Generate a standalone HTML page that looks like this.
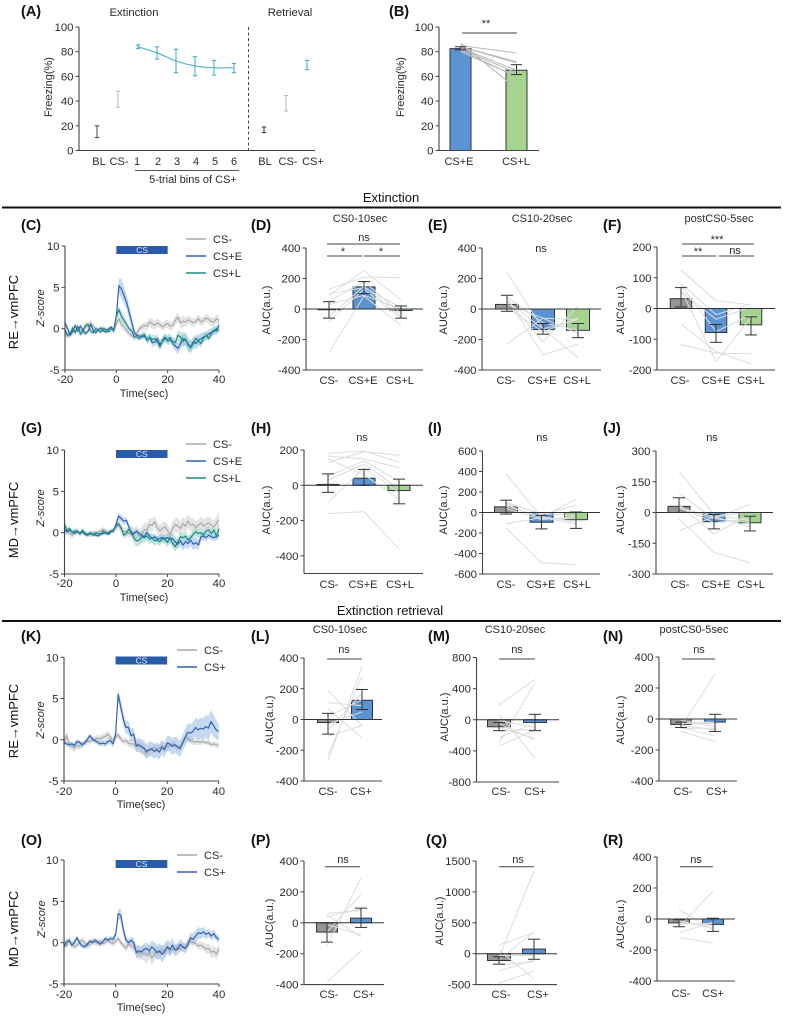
<!DOCTYPE html>
<html lang="en">
<head>
<meta charset="utf-8">
<title>Freezing and AUC figure</title>
<style>
html,body{margin:0;padding:0;background:#fff;}
svg{display:block;font-family:"Liberation Sans",Arial,sans-serif;filter:blur(0.3px);}
text{fill:#2b2b2b;font-size:11px;}
.pl{font-size:14.5px;font-weight:bold;fill:#111;}
.sec{font-size:13px;fill:#111;}
.side{font-size:13px;fill:#111;}
</style>
</head>
<body>
<svg id="fig" xmlns="http://www.w3.org/2000/svg" width="785" height="1016" viewBox="0 0 785 1016">
<rect x="0" y="0" width="785" height="1016" fill="#fff"/>
<text class="sec" x="391" y="202" text-anchor="middle">Extinction</text>
<line x1="2" x2="781" y1="207.5" y2="207.5" stroke="#111" stroke-width="2"/>
<text class="sec" x="390" y="615" text-anchor="middle">Extinction retrieval</text>
<line x1="2" x2="781" y1="621" y2="621" stroke="#111" stroke-width="2"/>
<text class="pl" x="21" y="16">(A)</text>
<text class="pl" x="389" y="16">(B)</text>
<text class="pl" x="21" y="230">(C)</text>
<text class="pl" x="251" y="230">(D)</text>
<text class="pl" x="428" y="230">(E)</text>
<text class="pl" x="603" y="230">(F)</text>
<text class="pl" x="21" y="433">(G)</text>
<text class="pl" x="251" y="433">(H)</text>
<text class="pl" x="428" y="433">(I)</text>
<text class="pl" x="603" y="433">(J)</text>
<text class="pl" x="21" y="641">(K)</text>
<text class="pl" x="251" y="641">(L)</text>
<text class="pl" x="428" y="641">(M)</text>
<text class="pl" x="603" y="641">(N)</text>
<text class="pl" x="21" y="845">(O)</text>
<text class="pl" x="251" y="845">(P)</text>
<text class="pl" x="426" y="845">(Q)</text>
<text class="pl" x="603" y="845">(R)</text>
<text x="134" y="16" text-anchor="middle" style="font-size:11.3px">Extinction</text>
<text x="290" y="16" text-anchor="middle" style="font-size:11.3px">Retrieval</text>
<line x1="248.5" x2="248.5" y1="27" y2="150" stroke="#333" stroke-width="0.9" stroke-dasharray="3 2.5"/>
<line x1="135" x2="239" y1="170.5" y2="170.5" stroke="#555" stroke-width="0.9"/>
<text x="193" y="183" text-anchor="middle">5-trial bins of CS+</text>
<text class="side" transform="translate(18,312) rotate(-90)" text-anchor="middle">RE→vmPFC</text>
<text class="side" transform="translate(18,520) rotate(-90)" text-anchor="middle">MD→vmPFC</text>
<text class="side" transform="translate(18,721) rotate(-90)" text-anchor="middle">RE→vmPFC</text>
<text class="side" transform="translate(18,929) rotate(-90)" text-anchor="middle">MD→vmPFC</text>
</svg>
<script>
// ---------- Panel A ----------
var aCategories = ["BL","CS-","1","2","3","4","5","6","BL","CS-","CS+"];
var aMeans = [15,42,84,79,72.5,68.5,67,67,16.5,38.5,69];
var aLow   = [10.5,35,82.5,74,63,60.5,61,63,14.5,32,65.5];
var aHigh  = [20,48,85.5,84,82,76,73,70.5,19,44.5,73];
var freezingTicks = [0,20,40,60,80,100];

// ---------- Panel B ----------
var bCategories = ["CS+E","CS+L"];
var bMeans = [82.5,65];
var bLow   = [81.5,61.5];
var bHigh  = [84,69.5];
var bPaired = [[87,50],[85,79],[84,72],[84,71],[83,65],[82,63],[81,60],[80,60]];

// ---------- Shared trace axes ----------
var zTicks = [-5,0,5,10];
var timeTicks = [-20,0,20,40];

// ---------- Traces (one value per second, -20..40 s) ----------
var cMinus = [-0.5,-0.9,-0.6,-0.4,-0.2,0.1,-0.2,-0.5,0.2,0.4,0.7,0.3,0,-0.2,-0.3,0.1,-0.3,-0.2,0,-0.2,
 0.6,1.2,0.5,0.2,-0.2,-0.6,-0.8,-1.1,-0.6,0,0.2,0.4,0.3,0.8,0.6,0.4,0.7,0.5,0.2,0.5,
 0.6,0.3,0.4,1.0,1.4,0.7,0.9,0.8,1.1,0.9,0.7,0.9,1.2,0.8,1.0,1.3,1.1,0.9,0.8,1.2,1.0];
var cPlusE = [0.7,0,-0.8,-0.3,0.4,-0.3,0.3,-0.2,-0.6,-0.3,0.5,-0.2,-0.5,-0.1,0.1,-0.3,-0.4,0,0.2,-0.3,
 1.5,5.2,4.8,4,3.2,2,0.8,-0.5,-0.8,-0.9,-1.0,-0.9,-1.4,-1.0,-1.7,-1.6,-1.2,-1.9,-1.5,-1.2,
 -1.3,-1.1,-1.8,-2.1,-2.4,-1.8,-1.2,-1.3,-1.9,-2.2,-1.6,-1.8,-1.4,-1.2,-1,-0.9,-0.6,-0.5,-0.2,-0.3,0.4];
var cPlusL = [-0.1,-0.8,-0.6,0.1,-0.5,0.3,-0.7,-0.2,0.4,0.5,-0.3,-0.5,0,-0.2,-0.4,0,-0.1,-0.4,0,-0.1,
 1.5,2.3,1.5,1,0.5,0,-0.3,-1,-1,-1.2,-0.8,-0.7,-1.4,-1.1,-1.3,-1.2,-1.6,-2.2,-1.4,-1,
 -1.5,-1.4,-1.5,-1.7,-0.8,-1,-1.5,-1.3,-2,-2.3,-1.8,-1.2,-1.5,-1.8,-1.1,-0.8,-1.2,-0.6,-0.3,0,-0.2];
var gMinus = [0.3,0.2,-0.1,-0.3,0,0.2,-0.2,0.1,-0.1,-0.3,-0.2,0,-0.2,0,0.2,0.4,0.2,0,0.1,0.3,
 0.6,0.9,0.4,0.1,0.2,-0.1,0.2,-0.1,0,-0.4,-0.2,0.4,0.3,1.0,0.9,1.3,0.6,0.2,0.5,0.7,
 0.3,-0.2,0.5,1.0,0.8,0.5,1.1,0.8,1.4,0.9,1.0,0.6,0.9,1.2,0.8,1.0,1.2,0.9,0.7,1.1,1.6];
var gPlusE = [0.4,0.1,0.3,0.1,-0.1,0.2,-0.1,0.1,-0.2,-0.3,-0.1,-0.2,-0.3,-0.4,-0.2,-0.1,0,-0.2,0.1,0.2,
 1.0,2.0,1.7,1.4,1.5,0.7,-0.2,-0.1,0.2,-0.1,-0.3,-0.5,0,-0.4,-0.7,-0.5,-0.8,-0.7,-0.6,-0.7,
 -0.6,-0.8,-0.7,-1.1,-1.4,-1.0,-1.5,-1.1,-1.3,-0.9,-1.4,-1.2,-1.5,-0.5,-0.4,-0.6,-0.3,-0.5,-0.6,-0.5,-0.3];
var gPlusL = [1.0,0.3,0.5,0,0.2,0.1,-0.1,0.3,-0.1,-0.2,0,-0.3,0,-0.1,-0.2,0.2,-0.1,0,0.2,0.3,
 0.8,1.1,0.6,-0.3,-0.1,0.4,0.1,-0.7,-1.0,-0.9,-0.5,-0.6,-0.4,-0.8,-0.6,-1.0,-0.9,-1.1,-0.7,-0.8,
 -1.2,-0.6,-1.3,-1.7,-1.2,-0.5,-0.6,-0.4,-0.9,-0.6,-0.2,0.1,-0.1,0,-0.3,0.2,0.3,-0.1,0.3,-0.4,0.5];
var kMinus = [-0.3,0.5,-0.5,-0.8,-1,-0.7,-0.8,-0.6,-0.3,-0.2,-0.2,0,0,0.2,0.1,0.3,0.4,0.7,0.3,-0.1,
 0.3,0.6,0.1,-0.2,-0.1,-0.4,-0.5,-0.5,-0.9,-0.7,-1,-1.1,-1.7,-1.2,-1.3,-0.9,-1.1,-1.0,-0.7,-1.1,
 -0.8,-0.8,-0.5,-0.6,-1,-0.9,-0.3,0.2,0.2,-0.1,-0.2,-0.3,-0.2,-0.3,-0.2,-0.4,-0.3,-0.6,-0.5,-0.6,-0.7];
var kPlus = [-0.3,-0.5,-0.6,-0.5,-0.7,-0.2,-0.3,-0.6,-0.4,0,0.5,0.1,-0.1,-0.3,-0.5,-0.4,-0.5,-0.2,-0.1,-0.5,
 0.6,5.5,4,2.5,1.5,1.5,0.5,0.7,-0.7,-0.6,-0.8,-1,-1.4,-1.2,-1.1,-1.4,-1.2,-1.5,-0.9,-1.2,
 -0.4,-0.5,-0.8,-0.6,-0.8,-1.1,-0.4,0.3,0.9,0.8,1,1.5,1.2,1.4,1.3,1.6,1.4,2.2,1.7,1.2,1];
var oMinus = [0.2,-0.4,0.3,-0.2,-0.5,-0.3,0,0.3,0,-0.4,-0.2,0.2,0.1,-0.1,0.2,-0.1,0,0.3,0,-0.1,
 0.2,0.5,0,-0.3,-0.7,-0.1,-0.4,-0.6,-0.9,-1.3,-1.2,-1.3,-1.6,-1.1,-1.9,-1.4,-1.0,-1.3,-0.8,-1.3,
 -0.5,-1.1,-0.7,-0.9,-0.5,-0.8,-0.5,-0.6,0,0.2,0,-0.1,-0.4,-0.3,-0.5,-0.8,-0.7,-1.2,-1.0,-1.4,-0.7];
var oPlus = [-0.5,0.1,0.3,-0.3,0,0.6,0,-0.4,-0.5,-0.2,0.2,0,0.3,0.1,-0.2,0.1,0.5,0.3,0.5,0.4,
 1.0,3.5,3.3,1.5,0.3,0,0.3,0,-1.2,-1.0,-1.1,-0.8,-0.7,-1.0,-0.5,-0.8,-1.2,-1.0,-1.4,-1.0,
 -0.5,-0.8,-0.3,-0.9,-0.8,-0.2,-0.5,-0.7,-0.2,0.6,0.4,0.8,1.2,1.1,1.3,1.0,1.2,0.8,1.1,0.6,0.4];

// ---------- Trace SEM half-widths (one value per 2 s, -20..40 s) ----------
var cMinusBand = [.4,.4,.3,.3,.3,.3,.3,.3,.3,.3,.4,.6,.4,.4,.4,.4,.5,.6,.5,.5,.5,.5,.6,.7,.5,.5,.5,.5,.5,.5,.5];
var cPlusEBand = [.3,.3,.3,.3,.3,.3,.2,.2,.2,.2,.5,1.2,.9,.7,.3,.3,.4,.5,.5,.5,.5,.5,.7,.8,.8,.7,.7,.6,.5,.5,.5];
var cPlusLBand = [.3,.3,.3,.3,.3,.3,.2,.2,.2,.2,.4,.6,.4,.3,.3,.4,.5,.5,.5,.5,.5,.5,.6,.7,.7,.6,.5,.5,.4,.4,.4];
var gMinusBand = [.5,.4,.4,.3,.3,.3,.3,.3,.3,.3,.4,.5,.5,.6,.8,.9,.8,.8,.7,.7,.7,.8,.9,.8,.8,.8,.7,.8,.8,.8,.9];
var gPlusEBand = [.3,.2,.2,.2,.2,.2,.2,.2,.2,.2,.4,.5,.4,.3,.3,.3,.4,.4,.4,.5,.5,.6,.6,.7,.7,.7,.6,.5,.4,.4,.4];
var gPlusLBand = [.4,.3,.3,.3,.3,.3,.3,.2,.2,.2,.3,.4,.4,.6,.7,.7,.6,.6,.5,.5,.6,.6,.6,.6,.5,.5,.5,.5,.5,.5,.6];
var kMinusBand = [.6,.5,.5,.4,.4,.4,.4,.4,.4,.4,.4,.4,.4,.5,.6,.7,.6,.5,.5,.5,.5,.4,.4,.4,.4,.4,.4,.3,.3,.3,.4];
var kPlusBand  = [.3,.3,.3,.3,.3,.3,.3,.3,.4,.4,.5,.8,.8,.8,.8,.9,.9,.9,.9,.9,.9,1,1,1,1.1,1.1,1.2,1.3,1.5,1.3,1];
var oMinusBand = [.5,.5,.4,.4,.4,.4,.4,.4,.3,.3,.4,.4,.4,.5,.7,.8,1,.8,.7,.6,.5,.5,.5,.5,.4,.4,.4,.5,.6,.7,.6];
var oPlusBand  = [.3,.3,.3,.3,.3,.3,.3,.3,.3,.3,.4,.8,.5,.4,.7,.7,.7,.8,.9,1,.9,.8,.7,.6,.6,.7,.7,.6,.5,.5,.4];

// ---------- AUC bar panels ----------
var threeConds = ["CS-","CS+E","CS+L"];
var twoConds = ["CS-","CS+"];
var ticks400 = [-400,-200,0,200,400];

var dMeans=[-5,145,-10], dLow=[-60,100,-60], dHigh=[48,180,20];
var dPaired=[[130,210,205],[90,250,60],[50,180,-30],[-80,130,-60],[-285,85,-110],[30,90,0],[-50,150,-50],[100,140,10]];
var eMeans=[30,-135,-140], eLow=[-15,-165,-188], eHigh=[90,-95,-95];
var ePaired=[[240,-130,-320],[70,-300,-230],[-230,-60,-160],[60,-215,20],[50,-130,-70],[30,-60,-70],[80,-90,-140],[10,-150,-60]];
var fTicks=[-200,-100,0,100,200];
var fMeans=[32,-78,-53], fLow=[5,-110,-86], fHigh=[68,-52,-27];
var fPaired=[[125,25,12],[80,-20,15],[75,-75,-20],[55,-35,5],[-50,-140,-180],[-117,-145,-147],[60,-172,-30]];
var hMeans=[5,40,-30], hLow=[-40,0,-105], hHigh=[65,90,35];
var hTicks=[-400,-200,0,200];
var hPaired=[[165,150,100],[180,195,130],[130,190,170],[-100,100,-40],[-160,-150,-360],[50,140,20],[30,120,-20],[150,60,-80]];
var iTicks=[-600,-400,-200,0,200,400,600];
var iMeans=[55,-95,-70], iLow=[-15,-160,-155], iHigh=[120,-30,5];
var iPaired=[[380,-50,-110],[-150,-490,-510],[-110,-50,130],[100,-20,70],[80,-60,-60],[40,-70,-40],[60,-40,-90],[90,-10,-30]];
var jTicks=[-300,-150,0,150,300];
var jMeans=[30,-45,-50], jLow=[0,-80,-90], jHigh=[72,-10,-18];
var jPaired=[[200,-10,-40],[95,-30,40],[-90,-20,5],[-30,-195,-245],[40,-105,-10],[30,-50,-30],[20,-30,-50],[25,-20,-70]];
var lMeans=[-20,125], lLow=[-95,65], lHigh=[40,195];
var lPaired=[[-270,345],[-230,280],[190,-40],[110,90],[-110,-40],[-70,170],[70,-120],[20,130],[-30,50]];
var mTicks=[-800,-400,0,400,800];
var mMeans=[-90,-35], mLow=[-140,-140], mHigh=[-35,70];
var mPaired=[[190,520],[-300,470],[-340,-130],[-230,-40],[70,-490],[-50,-260],[-100,-240],[-10,-100],[-150,-120]];
var nMeans=[-35,-20], nLow=[-55,-80], nHigh=[-20,30];
var nPaired=[[-50,290],[-80,-145],[-60,-60],[-30,-30],[-40,-70],[-20,-20],[-55,-110],[-10,-50]];
var pMeans=[-60,30], pLow=[-125,-30], pHigh=[0,95];
var pPaired=[[-385,-180],[-150,290],[-60,185],[60,80],[50,-90],[-10,-80],[40,90]];
var qTicks=[-500,0,500,1000,1500];
var qMeans=[-110,75], qLow=[-170,-90], qHigh=[-50,235];
var qPaired=[[-480,-280],[-280,-100],[140,340],[60,-410],[-60,1340],[-180,-130],[-30,-30],[-100,350]];
var rMeans=[-25,-35], rLow=[-50,-80], rHigh=[-5,5];
var rPaired=[[60,-70],[-120,-155],[-90,-20],[-50,180],[-20,-40],[-10,-60],[-30,-30]];

// ---------- Drawing ----------
var NS='http://www.w3.org/2000/svg';
var fig=document.getElementById('fig');
var COL={gray:'#a8a8a8',blue:'#2f62b5',teal:'#1f8a80',grayF:'#c9c9c9',blueF:'#8fb2e4',tealF:'#86cbc2',barG:'#969696',barB:'#5b93d3',barL:'#a6d48f',axis:'#444',ink:'#333'};

function mk(tag,attrs,parent,txt){
  var el=document.createElementNS(NS,tag);
  for(var k in attrs){el.setAttribute(k,attrs[k]);}
  if(txt!==undefined){el.textContent=txt;}
  (parent||fig).appendChild(el);
  return el;
}
function linScale(d0,d1,r0,r1){return function(v){return r0+(v-d0)/(d1-d0)*(r1-r0);};}

function drawYAxis(g,axisX,y,ticks,top,bottom,pid){
  var el=mk('line',{x1:axisX,x2:axisX,y1:top,y2:bottom,stroke:COL.axis,'stroke-width':1.1},g);
  
  
  ticks.forEach(function(t){
    var tk=mk('line',{x1:axisX-3.5,x2:axisX,y1:y(t),y2:y(t),stroke:COL.axis,'stroke-width':1},g);
    
    
    var lb=mk('text',{x:axisX-5.5,y:y(t)+4,'text-anchor':'end',style:'font-size:11.4px'},g,String(t));
    
    
  });
}
function drawRotLabel(g,txt,x,cy,pid,italic){
  var el=mk('text',{transform:'translate('+x+','+cy+') rotate(-90)','text-anchor':'middle',style:italic?'font-style:italic':''},g,txt);
  
  
}
function drawSigLine(g,x1,x2,yy,pid){
  var el=mk('line',{x1:x1,x2:x2,y1:yy,y2:yy,stroke:'#444','stroke-width':1},g);
  
  
}
function drawSigText(g,txt,x,yy,pid){
  var el=mk('text',{x:x,y:yy,'text-anchor':'middle'},g,txt);
  
  
}
function drawErr(g,x,y0,y1,capW,col,sw,pid){
  var v=mk('line',{x1:x,x2:x,y1:y0,y2:y1,stroke:col,'stroke-width':sw},g);
  
  
  [y0,y1].forEach(function(yy){
    var c=mk('line',{x1:x-capW/2,x2:x+capW/2,y1:yy,y2:yy,stroke:col,'stroke-width':sw},g);
    
    
  });
}

function drawBarPanel(pid,layout,ticks,cats,means,low,high,paired,colors,sig){
  var g=mk('g',{},fig);
  
  
  var y=linScale(layout.dMax,layout.dMin,layout.top,layout.bottom);
  var pairX=layout.pairX||layout.centers;
  means.forEach(function(m,i){
    var x=layout.centers[i]-layout.barW/2, y0=Math.min(y(0),y(m)), h=Math.abs(y(m)-y(0));
    var b=mk('rect',{x:x,y:y0,width:layout.barW,height:h,fill:colors[i],stroke:'#2b3640','stroke-width':1},g);
    
    
  });
  paired.forEach(function(row){
    var pts=row.map(function(v,i){return pairX[i]+','+y(v);}).join(' ');
    var pl=mk('polyline',{points:pts,fill:'none',stroke:layout.pairCol||'#dcdcdc','stroke-width':1},g);
    
    
  });
  means.forEach(function(m,i){
    drawErr(g,layout.centers[i],y(low[i]),y(high[i]),layout.capW||12,'#333',1,pid);
  });
  drawYAxis(g,layout.axisX,y,ticks,layout.top,layout.bottom,pid);
  var base=mk('line',{x1:layout.axisX,x2:layout.xEnd,y1:layout.bottom,y2:layout.bottom,stroke:COL.axis,'stroke-width':1.1},g);
  
  
  if(layout.dMin<0){
    var zero=mk('line',{x1:layout.axisX,x2:layout.xEnd,y1:y(0),y2:y(0),stroke:'#333','stroke-width':1},g);
    
    
  }
  cats.forEach(function(c,i){
    var lb=mk('text',{x:layout.labelXs[i],y:layout.catBase,'text-anchor':'middle'},g,c);
    
    
  });
  drawRotLabel(g,layout.ylabel,layout.ylabelX,layout.ylabelY,pid,false);
  if(layout.title){
    var t=mk('text',{x:layout.title[1],y:layout.title[2],'text-anchor':'middle'},g,layout.title[0]);
    
    
  }
  sig.lines.forEach(function(l){drawSigLine(g,l[0],l[1],l[2],pid);});
  sig.texts.forEach(function(l){drawSigText(g,l[0],l[1],l[2],pid);});
}

function drawTracePanel(pid,layout,series){
  var g=mk('g',{},fig);
  
  
  var y=linScale(10,-5,layout.top,layout.bottom);
  var x=linScale(-20,40,layout.left,layout.right);
  series.forEach(function(s){
    var up=[],dn=[];
    s.values.forEach(function(v,i){
      var a=Math.floor(i/2),b=Math.ceil(i/2);
      var hw=(s.band[a]+s.band[b])/2, t=timeTicks[0]+i;
      up.push(x(t)+','+y(v+hw));
      dn.unshift(x(t)+','+y(v-hw));
    });
    var p=mk('polygon',{points:up.concat(dn).join(' '),fill:s.fill,'fill-opacity':0.5,stroke:'none'},g);
    
    
  });
  series.forEach(function(s){
    var pts=s.values.map(function(v,i){return x(timeTicks[0]+i)+','+y(v);}).join(' ');
    var l=mk('polyline',{points:pts,fill:'none',stroke:s.color,'stroke-width':1.2,'stroke-linejoin':'round'},g);
    
    
  });
  drawYAxis(g,layout.left,y,zTicks,layout.top,layout.bottom,pid);
  var xa=mk('line',{x1:layout.left,x2:layout.right,y1:layout.bottom,y2:layout.bottom,stroke:COL.axis,'stroke-width':1.1},g);
  
  
  timeTicks.forEach(function(t){
    var tk=mk('line',{x1:x(t),x2:x(t),y1:layout.bottom,y2:layout.bottom+3,stroke:COL.axis,'stroke-width':1},g);
    
    
    var lb=mk('text',{x:x(t),y:layout.xBase,'text-anchor':'middle',style:'font-size:11.4px'},g,String(t));
    
    
  });
  var tl=mk('text',{x:layout.timeX,y:layout.timeBase,'text-anchor':'middle'},g,'Time(sec)');
  
  
  drawRotLabel(g,'Z-score',layout.zX,layout.zY,pid,true);
  var cs=mk('rect',{x:x(0),y:layout.csTop,width:x(20)-x(0),height:8,fill:'#2a5bab'},g);
  
  
  var cst=mk('text',{x:(x(0)+x(20))/2,y:layout.csTop+7,'text-anchor':'middle',style:'font-size:8.5px;fill:#dfe8f6'},g,'CS');
  
  
  series.forEach(function(s,i){
    var ly=layout.legendYs[i];
    var ln=mk('line',{x1:layout.legendX,x2:layout.legendX+20,y1:ly,y2:ly,stroke:s.color,'stroke-width':1.4},g);
    
    
    var lt=mk('text',{x:layout.legendX+27,y:ly+4},g,s.label);
    
    
  });
}

// Panel A
(function(){
  var g=mk('g',{},fig);
  
  
  var y=linScale(100,0,27,150.5);
  var xs=[97,118,138,157,176,195,214,234,264,286,307];
  var labelXs=[99,119,137,158,177,196,215,234,265,288,313];
  var cols=['#555','#bdbdbd','#49b0c6','#49b0c6','#49b0c6','#49b0c6','#49b0c6','#49b0c6','#444','#bdbdbd','#49b0c6'];
  var d='';
  for(var i=2;i<=7;i++){
    if(i===2){d+='M'+xs[i]+' '+y(aMeans[i]);}
    else{
      var p0=Math.max(i-2,2),p3=Math.min(i+1,7);
      var c1x=xs[i-1]+(xs[i]-xs[p0])/6,c1y=y(aMeans[i-1])+(y(aMeans[i])-y(aMeans[p0]))/6;
      var c2x=xs[i]-(xs[p3]-xs[i-1])/6,c2y=y(aMeans[i])-(y(aMeans[p3])-y(aMeans[i-1]))/6;
      d+=' C'+c1x+' '+c1y+' '+c2x+' '+c2y+' '+xs[i]+' '+y(aMeans[i]);
    }
  }
  var ln=mk('path',{d:d,fill:'none',stroke:'#49b0c6','stroke-width':1.1},g);
  
  
  aCategories.forEach(function(c,i){
    drawErr(g,xs[i],y(aLow[i]),y(aHigh[i]),4.5,cols[i],1.1,'a');
    var lb=mk('text',{x:labelXs[i],y:165,'text-anchor':'middle'},g,c);
    
    
  });
  drawYAxis(g,79,y,freezingTicks,27,150.5,'a');
  var xa=mk('line',{x1:79,x2:315,y1:150.5,y2:150.5,stroke:COL.axis,'stroke-width':1.1},g);
  
  
  drawRotLabel(g,'Freezing(%)',52,87,'a',false);
})();

// Panel B
drawBarPanel('b',{axisX:439,xEnd:539,top:27,bottom:150.5,dMax:100,dMin:0,centers:[460.5,516.5],barW:21,capW:11,labelXs:[459,516],catBase:165,ylabel:'Freezing(%)',ylabelX:404,ylabelY:87,pairCol:'#b9b9b9'},freezingTicks,bCategories,bMeans,bLow,bHigh,bPaired,[COL.barB,COL.barL],{lines:[[462,517,33]],texts:[['**',486,27]]});

// Trace panels
drawTracePanel('c',{top:246,bottom:370,left:65,right:219,xBase:383,timeBase:397,timeX:144,zX:44,zY:308,csTop:246,legendX:186,legendYs:[239,256,273]},[
 {label:'CS-',values:cMinus,band:cMinusBand,color:COL.gray,fill:COL.grayF},
 {label:'CS+E',values:cPlusE,band:cPlusEBand,color:COL.blue,fill:COL.blueF},
 {label:'CS+L',values:cPlusL,band:cPlusLBand,color:COL.teal,fill:COL.tealF}]);
drawTracePanel('g',{top:450,bottom:574,left:64.5,right:219,xBase:587,timeBase:601,timeX:144,zX:44,zY:508,csTop:450,legendX:186,legendYs:[444,461,478]},[
 {label:'CS-',values:gMinus,band:gMinusBand,color:COL.gray,fill:COL.grayF},
 {label:'CS+E',values:gPlusE,band:gPlusEBand,color:COL.blue,fill:COL.blueF},
 {label:'CS+L',values:gPlusL,band:gPlusLBand,color:COL.teal,fill:COL.tealF}]);
drawTracePanel('k',{top:657.3,bottom:781,left:64,right:218.7,xBase:795,timeBase:808,timeX:141,zX:44,zY:720,csTop:656.5,legendX:177,legendYs:[650,667]},[
 {label:'CS-',values:kMinus,band:kMinusBand,color:COL.gray,fill:COL.grayF},
 {label:'CS+',values:kPlus,band:kPlusBand,color:COL.blue,fill:COL.blueF}]);
drawTracePanel('o',{top:860,bottom:984,left:64,right:219,xBase:998,timeBase:1011,timeX:141,zX:45,zY:919,csTop:860,legendX:177,legendYs:[855,872]},[
 {label:'CS-',values:oMinus,band:oMinusBand,color:COL.gray,fill:COL.grayF},
 {label:'CS+',values:oPlus,band:oPlusBand,color:COL.blue,fill:COL.blueF}]);

var C3=[COL.barG,COL.barB,COL.barL], C2=[COL.barG,COL.barB];
var AUC='AUC(a.u.)';

drawBarPanel('d',{axisX:306,xEnd:423,top:248,bottom:370,dMax:400,dMin:-400,centers:[329,364,401],barW:22,labelXs:[329,363,400],catBase:384,ylabel:AUC,ylabelX:270,ylabelY:310,title:['CS0-10sec',360,222]},ticks400,threeConds,dMeans,dLow,dHigh,dPaired,C3,{lines:[[327,400,244],[327,362,256],[364,400,256]],texts:[['ns',364,241],['*',343,255],['*',381,255]]});
drawBarPanel('e',{axisX:482,xEnd:601,top:248,bottom:370,dMax:400,dMin:-400,centers:[507,543,578],barW:23,labelXs:[506,542,577],catBase:384,ylabel:AUC,ylabelX:447,ylabelY:310,title:['CS10-20sec',542,222]},ticks400,threeConds,eMeans,eLow,eHigh,ePaired,C3,{lines:[],texts:[['ns',541,252]]});
drawBarPanel('f',{axisX:657,xEnd:775,top:247,bottom:370,dMax:200,dMin:-200,centers:[681,716,751],barW:21.5,labelXs:[680,716,751],catBase:384,ylabel:AUC,ylabelX:624,ylabelY:310,title:['postCS0-5sec',719,222]},fTicks,threeConds,fMeans,fLow,fHigh,fPaired,C3,{lines:[[682,754,244],[682,716,256],[719,754,256]],texts:[['***',717,243],['**',698,255],['ns',735,254]]});

drawBarPanel('h',{axisX:304,xEnd:423,top:450,bottom:573.5,dMax:200,dMin:-500,centers:[328,364,399],barW:22,labelXs:[329,363,400],catBase:588,ylabel:AUC,ylabelX:270,ylabelY:510},hTicks,threeConds,hMeans,hLow,hHigh,hPaired,C3,{lines:[],texts:[['ns',362,441]]});
drawBarPanel('i',{axisX:482.5,xEnd:600,top:451,bottom:574,dMax:600,dMin:-600,centers:[506,541.5,576],barW:23,labelXs:[506,541,577],catBase:588,ylabel:AUC,ylabelX:447,ylabelY:510},iTicks,threeConds,iMeans,iLow,iHigh,iPaired,C3,{lines:[],texts:[['ns',542,441]]});
drawBarPanel('j',{axisX:656,xEnd:773,top:451,bottom:574,dMax:300,dMin:-300,centers:[679,714,750],barW:22,labelXs:[680,716,751],catBase:588,ylabel:AUC,ylabelX:624,ylabelY:510},jTicks,threeConds,jMeans,jLow,jHigh,jPaired,C3,{lines:[],texts:[['ns',712,441]]});

drawBarPanel('l',{axisX:304,xEnd:382,top:658,bottom:781,dMax:400,dMin:-400,centers:[328,362],barW:21,labelXs:[328,361],catBase:795,ylabel:AUC,ylabelX:273,ylabelY:720,title:['CS0-10sec',340,633]},ticks400,twoConds,lMeans,lLow,lHigh,lPaired,C2,{lines:[[327,362,659]],texts:[['ns',344,653]]});
drawBarPanel('m',{axisX:476.5,xEnd:559,top:657.5,bottom:782,dMax:800,dMin:-800,centers:[499,535],barW:23,labelXs:[501,535],catBase:795,ylabel:AUC,ylabelX:448,ylabelY:717,title:['CS10-20sec',515,633]},mTicks,twoConds,mMeans,mLow,mHigh,mPaired,C2,{lines:[[499,535,659]],texts:[['ns',517,653]]});
drawBarPanel('n',{axisX:659,xEnd:737,top:657,bottom:781,dMax:400,dMin:-400,centers:[681,715],barW:20.5,labelXs:[683,717],catBase:795,ylabel:AUC,ylabelX:624,ylabelY:720,title:['postCS0-5sec',694,633]},ticks400,twoConds,nMeans,nLow,nHigh,nPaired,C2,{lines:[[682,715,659]],texts:[['ns',699,653]]});

drawBarPanel('p',{axisX:304,xEnd:384,top:861,bottom:984.6,dMax:400,dMin:-400,centers:[327,361],barW:21,labelXs:[329,364],catBase:998,ylabel:AUC,ylabelX:273,ylabelY:923},ticks400,twoConds,pMeans,pLow,pHigh,pPaired,C2,{lines:[[325,360,866.7]],texts:[['ns',343,863]]});
drawBarPanel('q',{axisX:476,xEnd:557,top:861,bottom:984.6,dMax:1500,dMin:-500,centers:[499,534],barW:23,labelXs:[501,538],catBase:998,ylabel:AUC,ylabelX:443,ylabelY:921},qTicks,twoConds,qMeans,qLow,qHigh,qPaired,C2,{lines:[[499,534,866.7]],texts:[['ns',518,863]]});
drawBarPanel('r',{axisX:657,xEnd:735,top:857,bottom:981,dMax:400,dMin:-400,centers:[679,713],barW:21,labelXs:[681,713],catBase:997,ylabel:AUC,ylabelX:624,ylabelY:924},ticks400,twoConds,rMeans,rLow,rHigh,rPaired,C2,{lines:[[680,713,866.7]],texts:[['ns',696,863]]});
</script>
</body>
</html>
